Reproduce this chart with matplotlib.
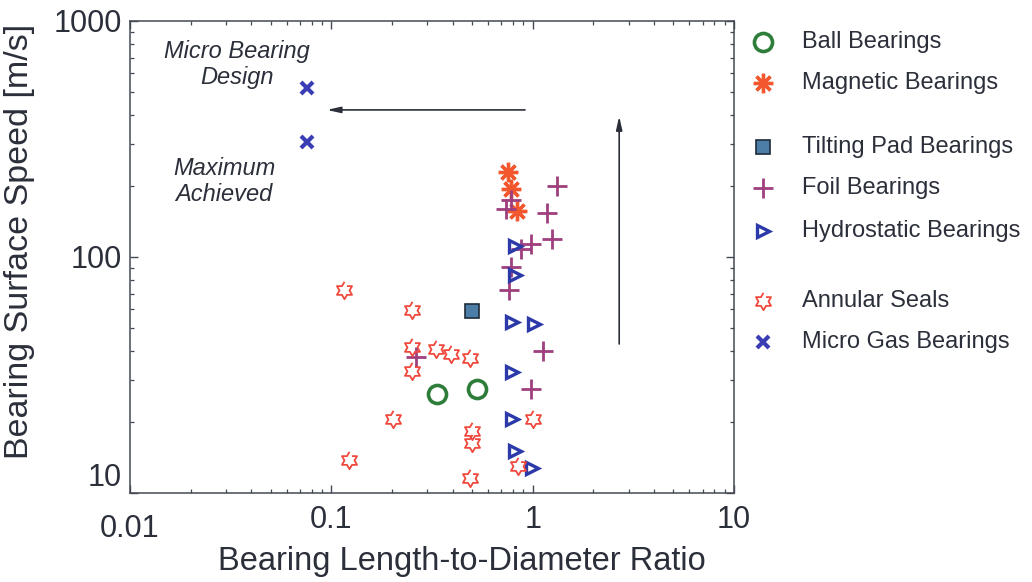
import numpy as np
import matplotlib
matplotlib.use("Agg")
import matplotlib.pyplot as plt
from matplotlib.lines import Line2D
from matplotlib.ticker import FixedLocator, FuncFormatter, LogLocator, NullFormatter

plt.rcParams['font.family'] = ['Liberation Sans', 'DejaVu Sans']

TEXT = "#2b2f3a"

# data (L/D ratio, surface speed m/s)
ball_x = [0.333, 0.532]
ball_y = [26.3, 27.6]

magnetic_x = [0.756, 0.782, 0.832]
magnetic_y = [229, 195, 157]

tilting_x = [0.497]
tilting_y = [58.9]

foil_x = [1.316, 0.782, 0.738, 1.18, 1.25, 0.977, 0.874, 0.782, 0.767, 0.262, 1.127, 0.977]
foil_y = [199, 174, 159, 153, 119.6, 113, 108, 91, 72.3, 37.6, 40.1, 27.6]

hydro_x = [0.813, 0.813, 0.794, 1.01, 0.794, 0.794, 0.813, 0.995]
hydro_y = [111, 83.6, 52.8, 51.9, 32.7, 20.5, 15.1, 12.8]

seal_x = [0.115, 0.252, 0.252, 0.330, 0.394, 0.490, 0.252, 0.202, 1.0, 0.497, 0.502, 0.123, 0.841, 0.490]
seal_y = [72.8, 59.9, 41.4, 40.6, 39.0, 37.5, 33.0, 20.5, 20.5, 18.3, 16.3, 13.8, 13.0, 11.6]

micro_x = [0.0757, 0.0757]
micro_y = [520, 307]

x_ticks = [0.01, 0.1, 1, 10]
y_ticks = [10, 100, 1000]

# six pointed star outline for the seals
ang = np.pi / 2 + np.arange(12) * np.pi / 6
rad = np.where(np.arange(12) % 2 == 0, 1.0, 0.58)
hexagram = list(zip(rad * np.cos(ang), rad * np.sin(ang)))

series = [
    ("Ball Bearings", ball_x, ball_y,
     dict(marker='o', ms=13, mfc='none', mec='#2f7d3a', mew=2.6)),
    ("Magnetic Bearings", magnetic_x, magnetic_y,
     dict(marker=(8, 2, 0), ms=14, mec='#f2572e', mew=2.4)),
    ("Tilting Pad Bearings", tilting_x, tilting_y,
     dict(marker='s', ms=10, mfc='#4d7ea8', mec='#1d2b3a', mew=1.2)),
    ("Foil Bearings", foil_x, foil_y,
     dict(marker='+', ms=15, mec='#9e3f7e', mew=2.0)),
    ("Hydrostatic Bearings", hydro_x, hydro_y,
     dict(marker='>', ms=8, mfc='none', mec='#2b3aa8', mew=2.4)),
    ("Annular Seals", seal_x, seal_y,
     dict(marker=hexagram, ms=12.5, mfc='none', mec='#f0483c', mew=1.3)),
    ("Micro Gas Bearings", micro_x, micro_y,
     dict(marker='x', ms=9, mec='#3b3db5', mew=3.0)),
]

fig = plt.figure(figsize=(10.32, 5.82), dpi=100)
ax = fig.add_axes([130 / 1032, 1 - 493 / 582, 604 / 1032, 472 / 582])

for name, xs, ys, st in series:
    ax.plot(xs, ys, ls='none', **st)

ax.set_xscale('log')
ax.set_yscale('log')
ax.set_xlim(0.01, 10)
ax.set_ylim(10, 1000)

fmt = FuncFormatter(lambda v, p: f"{v:g}")
ax.xaxis.set_major_locator(FixedLocator(x_ticks))
ax.yaxis.set_major_locator(FixedLocator(y_ticks))
ax.xaxis.set_major_formatter(fmt)
ax.yaxis.set_major_formatter(fmt)
ax.xaxis.set_minor_locator(LogLocator(base=10, subs=np.arange(2, 10)))
ax.yaxis.set_minor_locator(LogLocator(base=10, subs=np.arange(2, 10)))
ax.xaxis.set_minor_formatter(NullFormatter())
ax.yaxis.set_minor_formatter(NullFormatter())

ax.tick_params(which='both', direction='in', top=True, right=True,
               colors='#444a55', labelcolor=TEXT, labelsize=22)
ax.tick_params(which='major', length=6, width=1.0)
ax.tick_params(which='minor', length=3, width=0.9)
ax.tick_params(axis='x', pad=9)
ax.tick_params(axis='y', pad=6)
for s in ax.spines.values():
    s.set_color('#444a55')
    s.set_linewidth(1.1)

# corner labels are nudged apart, as in the original
ax.yaxis.get_major_ticks()[0].label1.set_va('bottom')
ax.xaxis.get_major_ticks()[0].set_pad(15)

ax.set_xlabel("Bearing Length-to-Diameter Ratio", fontsize=23.5, color=TEXT)
ax.set_ylabel("Bearing Surface Speed [m/s]", fontsize=24.5, color=TEXT)
ax.xaxis.set_label_coords(0.55, -0.112)
ax.yaxis.set_label_coords(-0.158, 0.532)

# annotations
ax.text(0.034, 655, "Micro Bearing\nDesign", ha='center', va='center',
        fontsize=17, style='italic', color=TEXT, linespacing=1.2)
ax.text(0.0293, 209, "Maximum\nAchieved", ha='center', va='center',
        fontsize=17, style='italic', color=TEXT, linespacing=1.2)

arrow = dict(arrowstyle='-|>,head_length=0.8,head_width=0.18',
             color=TEXT, lw=1.2, shrinkA=0, shrinkB=0)
ax.annotate("", xy=(0.095, 420), xytext=(0.916, 420), arrowprops=arrow)
ax.annotate("", xy=(2.69, 395), xytext=(2.69, 42.8), arrowprops=arrow)

# legend with gaps between groups
rows = [42, 83, 147, 188, 231, 301, 342]
for (name, xs, ys, st), ry in zip(series, rows):
    yf = 1 - ry / 582
    fig.add_artist(Line2D([763 / 1032], [yf], transform=fig.transFigure, ls='none', **st))
    fig.text(802 / 1032, yf, name, fontsize=17, color=TEXT, va='center', ha='left')

fig.savefig("out.png", dpi=100)
